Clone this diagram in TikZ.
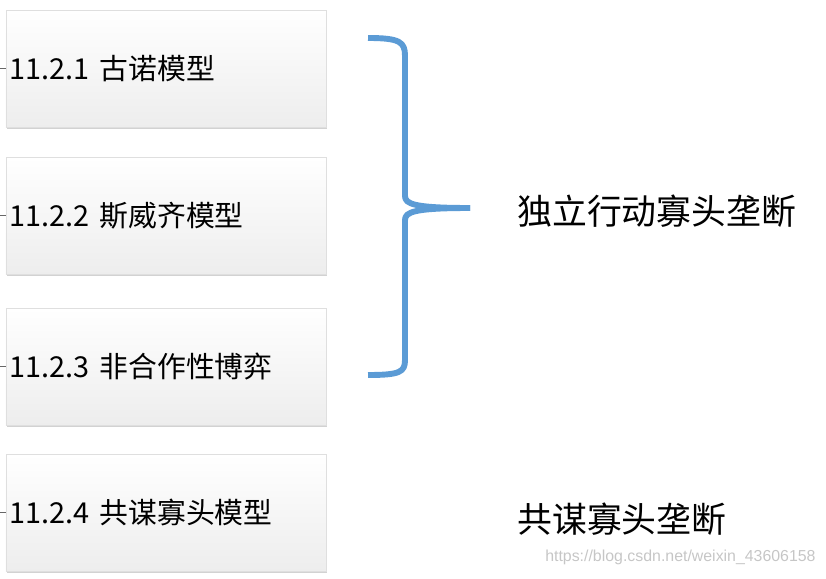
\documentclass[tikz,border=0pt]{standalone}
\usepackage{fontspec}
\setmainfont{Noto Sans CJK SC}
\newfontfamily\markfont{Liberation Sans}
\usetikzlibrary{shadows}
\definecolor{bracecol}{HTML}{5B9BD5}

\begin{document}
\begin{tikzpicture}[x=0.025cm, y=-0.025cm,
    modelbox/.style={rectangle, draw=gray!25, top color=white, bottom color=gray!14,
        drop shadow={shadow xshift=0.4pt, shadow yshift=-1.6pt, fill=gray!70},
        minimum width=8cm, minimum height=2.925cm, inner xsep=0.1cm,
        text width=7.8cm, align=left, font=\fontsize{20.5}{24}\selectfont},
    kindlabel/.style={anchor=west, inner sep=0pt, font=\fontsize{24.8}{28}\selectfont}]

        \useasboundingbox (0,0) rectangle (826,578);

        % Kasten
        \node[modelbox] (m1) at (166,68.5) {11.2.1 古诺模型};
        \node[modelbox] (m2) at (166,215.5) {11.2.2 斯威齐模型};
        \node[modelbox] (m3) at (166,366.5) {11.2.3 非合作性博弈};
        \node[modelbox] (m4) at (166,512.5) {11.2.4 共谋寡头模型};

        % Striche links
        \coordinate (t1) at (0,68.5);
        \coordinate (t2) at (0,215.5);
        \coordinate (t3) at (0,366.5);
        \coordinate (t4) at (0,512.5);
        \draw[gray!80!black, thin] (t1) -- (m1.west);
        \draw[gray!80!black, thin] (t2) -- (m2.west);
        \draw[gray!80!black, thin] (t3) -- (m3.west);
        \draw[gray!80!black, thin] (t4) -- (m4.west);

        % Klammer
        \coordinate (btop) at (368,38);
        \coordinate (btip) at (470,208);
        \coordinate (bbot) at (368,375);
        \draw[bracecol, line width=4.2pt, line join=round]
            (btop) .. controls (400,38) and (405,42) .. (405,56) -- (405,196)
            .. controls (405,204) and (414,208) .. (btip);
        \draw[bracecol, line width=4.2pt, line join=round]
            (btip) .. controls (414,208) and (405,212) .. (405,220) -- (405,360)
            .. controls (405,372) and (400,375) .. (bbot);

        % Beschriftung rechts
        \node[kindlabel] (k1) at (517,211) {独立行动寡头垄断};
        \node[kindlabel] (k2) at (517,519) {共谋寡头垄断};

        \node[anchor=west, inner sep=0pt, text=gray!45, font=\markfont\fontsize{11.3}{13}\selectfont]
            (mark) at (545,557) {https://blog.csdn.net/weixin\_43606158};

    \end{tikzpicture}
\end{document}
